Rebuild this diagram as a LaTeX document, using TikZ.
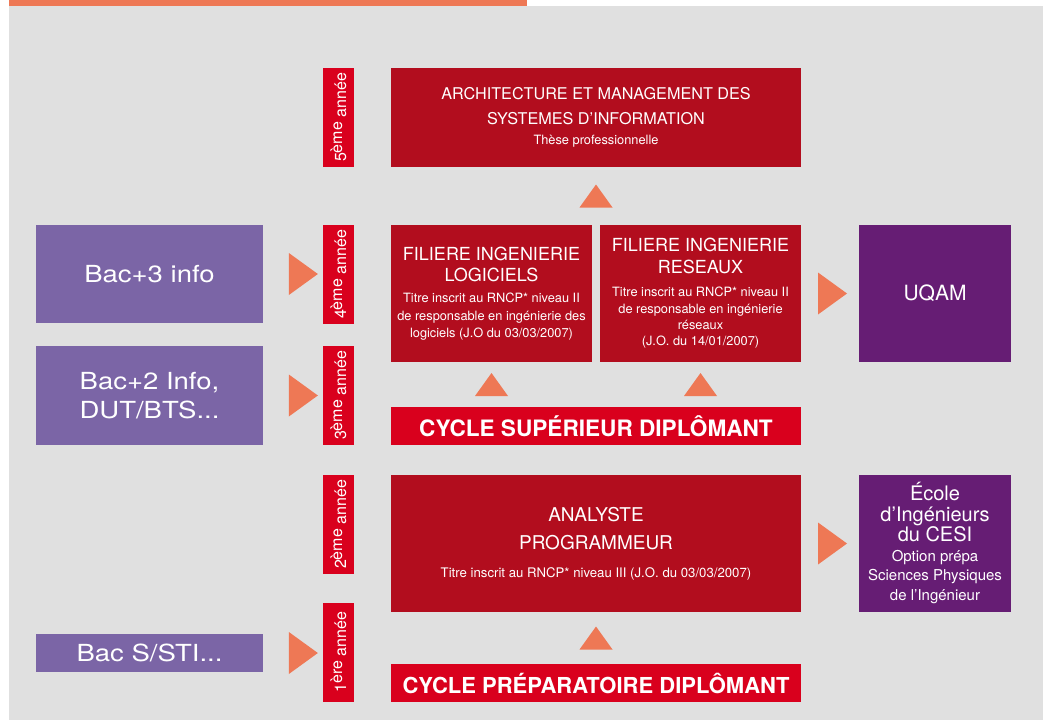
\documentclass[tikz,border=0pt]{standalone}
\usepackage{fontspec}
\setmainfont{TeX Gyre Heros}
\newfontfamily\wideheros[FakeStretch=1.17]{TeX Gyre Heros}
\usepackage{xcolor}
\usetikzlibrary{calc}

\definecolor{bggray}{HTML}{E0E0E0}
\definecolor{tiporange}{HTML}{EE7855}
\definecolor{darkred}{HTML}{B20D1E}
\definecolor{brightred}{HTML}{D9001D}
\definecolor{lightpurple}{HTML}{7B65A6}
\definecolor{darkpurple}{HTML}{661D74}

\begin{document}
\begin{tikzpicture}[x=1pt, y=-1pt,
  box/.style={inner sep=0pt, align=center, text=white, minimum width=#1},
  redbox/.style={box=410, fill=darkred, font=\fontsize{12.8}{17.5}\selectfont},
  cyclebox/.style={box=410, fill=brightred, minimum height=38, font=\bfseries},
  yearbox/.style={box=99, fill=brightred, minimum height=31, rotate=90, font=\fontsize{16}{18}\selectfont},
  entrybox/.style={box=227, fill=lightpurple, font=\wideheros\fontsize{23.5}{29}\selectfont},
  exitbox/.style={box=152, fill=darkpurple, minimum height=137},
  tip/.style={fill=tiporange}]
  \useasboundingbox (0,0) rectangle (1043,720);

  % background and top band
  \fill[bggray] (9,6) rectangle (1043,720);
  \fill[tiporange] (9,0) rectangle (527,6);

  % years
  \node[yearbox] (y5) at (338.5,117.5) {5\raisebox{4pt}{ème} année};
  \node[yearbox] (y4) at (338.5,274.5) {4\raisebox{4pt}{ème} année};
  \node[yearbox] (y3) at (338.5,395.5) {3\raisebox{4pt}{ème} année};
  \node[yearbox] (y2) at (338.5,524.5) {2\raisebox{4pt}{ème} année};
  \node[yearbox] (y1) at (338.5,652) {1\raisebox{4pt}{ère} année};

  % programmes
  \node[redbox, minimum height=99] (archi) at (596,117.5)
    {{\fontsize{16.2}{23}\selectfont ARCHITECTURE ET MANAGEMENT DES}\\[7pt]
     {\fontsize{16.2}{23}\selectfont SYSTEMES D’INFORMATION}\\[3pt]
     Thèse professionnelle};
  \node[redbox, minimum width=201, minimum height=137] (logi) at (491.5,293.5)
    {{\fontsize{18}{22}\selectfont FILIERE INGENIERIE}\\[4pt]
     {\fontsize{18}{22}\selectfont LOGICIELS}\\[3.5pt]
     Titre inscrit au RNCP* niveau II\\
     de responsable en ingénierie des\\
     logiciels (J.O du 03/03/2007)};
  \node[redbox, minimum width=201, minimum height=137] (reseau) at (700.5,293.5)
    {{\fontsize{18}{22}\selectfont FILIERE INGENIERIE}\\[4.5pt]
     {\fontsize{18}{22}\selectfont RESEAUX}\\[5pt]
     Titre inscrit au RNCP* niveau II\\
     de responsable en ingénierie\\[-2pt]
     réseaux\\[-1pt]
     (J.O. du 14/01/2007)};
  \node[cyclebox, font=\bfseries\fontsize{22.6}{26}\selectfont] (cycsup) at (596,426) {CYCLE SUPÉRIEUR DIPLÔMANT};
  \node[redbox, minimum height=137, font=\fontsize{13.2}{28}\selectfont] (analyste) at (596,543.5)
    {{\fontsize{19}{28}\selectfont ANALYSTE}\\
     {\fontsize{19}{28}\selectfont PROGRAMMEUR}\\
     Titre inscrit au RNCP* niveau III (J.O. du 03/03/2007)};
  \node[cyclebox, font=\bfseries\fontsize{22}{26}\selectfont] (cycprep) at (596,683) {CYCLE PRÉPARATOIRE DIPLÔMANT};

  % entries
  \node[entrybox, minimum height=98] (bac3) at (149.5,274) {Bac+3 info};
  \node[entrybox, minimum height=99] (bac2) at (149.5,395.5) {Bac+2 Info,\\DUT/BTS...};
  \node[entrybox, minimum height=38] (bacs) at (149.5,653) {Bac S/STI...};

  % exits
  \node[exitbox, font=\fontsize{21}{25}\selectfont] (uqam) at (935,293.5) {UQAM};
  \node[exitbox, font=\fontsize{15}{19.5}\selectfont] (ecole) at (935,543)
    {{\fontsize{20}{20}\selectfont École}\\[1pt]
     {\fontsize{20}{20}\selectfont d’Ingénieurs}\\[1pt]
     {\fontsize{20}{20}\selectfont du CESI}\\
     Option prépa\\
     Sciences Physiques\\
     de l’Ingénieur};

  % arrows to the right
  \foreach \a/\b in {bac3/y4, bac2/y3, bacs/y1, reseau/uqam, analyste/ecole} {
    \coordinate (m) at ($(\b.west |- \a.east)!0.5!(\a.east)$);
    \fill[tip] (m) +(-12,-21) -- +(17,0) -- +(-12,21) -- cycle;
  }

  % arrows upwards
  \foreach \a/\b in {archi/reseau, logi/cycsup, reseau/cycsup, analyste/cycprep} {
    \coordinate (m) at ($(\a.south)!0.5!(\a.south |- \b.north)$);
    \fill[tip] (m) +(-16.5,11.5) -- +(0,-11.5) -- +(16.5,11.5) -- cycle;
  }
\end{tikzpicture}
\end{document}
